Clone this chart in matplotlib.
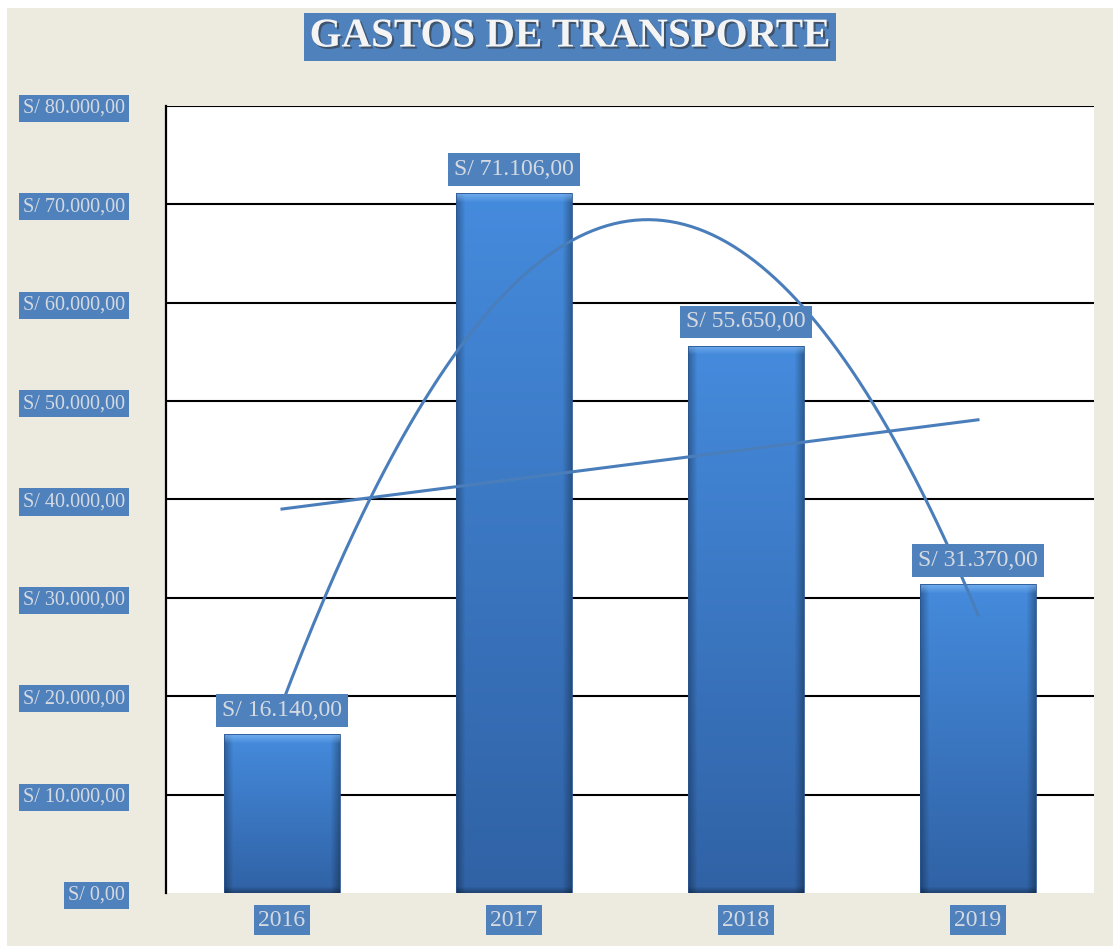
import matplotlib
matplotlib.use('Agg')
import matplotlib.pyplot as plt
import matplotlib.patheffects as pe
from matplotlib.patches import Rectangle
import numpy as np

years = ['2016', '2017', '2018', '2019']
gastos = [16140, 71106, 55650, 31370]
yticks = [0, 10000, 20000, 30000, 40000, 50000, 60000, 70000, 80000]
title = 'GASTOS DE TRANSPORTE'

BOX = '#4F81BD'
TXT = '#D5DAE1'
LINE = '#4A7EBB'

plt.rcParams['font.family'] = ['Liberation Serif', 'DejaVu Serif']


def money(v):
    s = f'{v:,.2f}'.replace(',', 'X').replace('.', ',').replace('X', '.')
    return 'S/ ' + s


def bevel_image(hpx, wpx):
    # vertical gradient, darker side edges, light top bevel
    top = np.array([0x45, 0x8B, 0xDD]) / 255
    bot = np.array([0x30, 0x62, 0xA5]) / 255
    t = np.linspace(0, 1, hpx)[:, None, None]
    img = top * (1 - t) + bot * t
    img = np.repeat(img, wpx, axis=1)
    b = 9
    cols = np.arange(wpx)
    edge = np.clip(1 - np.minimum(cols, wpx - 1 - cols) / b, 0, 1)
    img = img * (1 - 0.3 * edge[None, :, None])
    rows = np.arange(hpx)
    topb = np.clip(1 - rows / b, 0, 1)
    light = np.array([0x80, 0xB8, 0xF4]) / 255
    img = img * (1 - 0.75 * topb[:, None, None]) + light * 0.75 * topb[:, None, None]
    botb = np.clip(1 - (hpx - 1 - rows) / 6, 0, 1)
    img = img * (1 - 0.3 * botb[:, None, None])
    return np.clip(img, 0, 1)


fig = plt.figure(figsize=(11.13, 9.46), dpi=100)
fig.patch.set_facecolor('white')
fig.patches.append(Rectangle((7 / 1113, 0), 1, 1 - 8 / 946, transform=fig.transFigure,
                             facecolor='#EDEBE0', edgecolor='none', zorder=-10))

ax = fig.add_axes([166 / 1113, 1 - 893 / 946, 928 / 1113, 787 / 946])
ax.set_facecolor('white')
x = np.arange(len(years))
bars = ax.bar(x, gastos, width=0.5, color='none', edgecolor='none', zorder=3)

ppu_y = 787 / 80000
ppu_x = 928 / len(years)
for rect in bars:
    hpx = max(int(rect.get_height() * ppu_y), 10)
    wpx = int(rect.get_width() * ppu_x)
    im = ax.imshow(bevel_image(hpx, wpx), aspect='auto', interpolation='bilinear',
                   extent=(rect.get_x(), rect.get_x() + rect.get_width(), 0, rect.get_height()),
                   zorder=3)
    im.set_clip_path(rect)
    ax.bar(rect.get_x() + rect.get_width() / 2, rect.get_height(), width=rect.get_width(),
           color='none', edgecolor='#2A5590', linewidth=0.6, zorder=3.5)
ax.set_xlim(-0.5, len(years) - 0.5)
ax.set_ylim(0, 80000)

# trendlines (linear and polynomial order 2)
xs = np.arange(1, len(years) + 1)
lin = np.polyfit(xs, gastos, 1)
quad = np.polyfit(xs, gastos, 2)
xx = np.linspace(1, len(years), 200)
ax.plot(xx - 1, np.polyval(lin, xx), color=LINE, lw=2.2, zorder=4)
ax.plot(xx - 1, np.polyval(quad, xx), color=LINE, lw=2.2, zorder=4)

for xi, v in zip(x, gastos):
    ax.annotate(money(v), (xi, v), xytext=(0, 17), textcoords='offset points',
                ha='center', va='center', fontsize=17, color=TXT, zorder=6,
                bbox=dict(boxstyle='square,pad=0.25', facecolor=BOX, edgecolor='none'))

ax.set_yticks(yticks)
ax.set_yticklabels([money(v) for v in yticks])
ax.set_xticks(x)
ax.set_xticklabels(years)
ax.tick_params(axis='y', length=0, pad=29.5, labelsize=14.5, labelcolor=TXT)
ax.tick_params(axis='x', length=0, pad=12, labelsize=17, labelcolor=TXT)
for lbl in ax.get_yticklabels() + ax.get_xticklabels():
    lbl.set_bbox(dict(boxstyle='square,pad=0.2', facecolor=BOX, edgecolor='none'))

ax.yaxis.grid(True, color='black', linewidth=1.5, zorder=1)
ax.set_axisbelow(True)
ax.get_ygridlines()[0].set_visible(False)
for s in ['top', 'right', 'bottom']:
    ax.spines[s].set_visible(False)
ax.spines['left'].set_color('black')
ax.spines['left'].set_linewidth(1.6)

fig.text(570 / 1113, 1 - 37 / 946, title, ha='center', va='center', fontsize=29.5,
         fontweight='bold', color='#F4F4F4',
         path_effects=[pe.withSimplePatchShadow(offset=(1.5, -1.5), shadow_rgbFace='#333333', alpha=0.6)],
         bbox=dict(boxstyle='square,pad=0.14', facecolor=BOX, edgecolor='none'))

fig.savefig('out.png', dpi=100, facecolor=fig.get_facecolor())
